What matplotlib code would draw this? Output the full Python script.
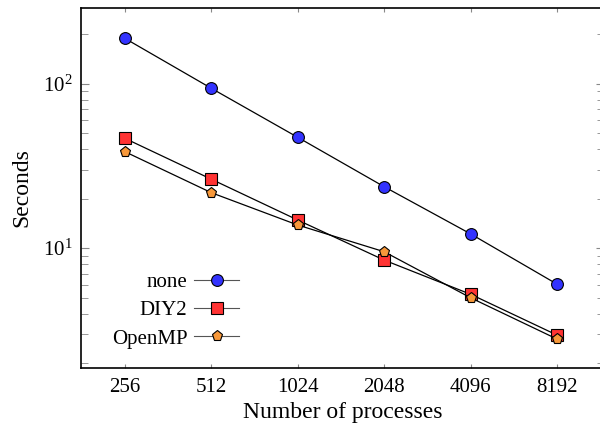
import numpy as np
import matplotlib
matplotlib.use('Agg')
import matplotlib.pyplot as plt
from matplotlib.ticker import LogLocator, NullFormatter, FixedLocator, FixedFormatter

# данные
procs = [256, 512, 1024, 2048, 4096, 8192]
proc_labels = ['256', '512', '1024', '2048', '4096', '8192']
t_none = [188, 93.5, 47.1, 23.6, 12.2, 6.04]
t_diy2 = [46.4, 26.2, 14.8, 8.45, 5.24, 2.96]
t_openmp = [38.5, 21.7, 13.8, 9.5, 4.99, 2.80]

plt.rcParams['font.family'] = ['Liberation Serif', 'DejaVu Serif']
plt.rcParams['mathtext.fontset'] = 'stix'

fig = plt.figure(figsize=(6, 4.32), dpi=100)
ax = fig.add_axes([0.135, 0.148, 0.871, 0.8335])  # правая рамка уходит за край, как в оригинале

ax.plot(procs, t_none, color='black', lw=0.9, marker='o', ms=8.5,
        mfc='#3333ff', mec='black', mew=0.8, label='none')
ax.plot(procs, t_diy2, color='black', lw=0.9, marker='s', ms=8,
        mfc='#ff3333', mec='black', mew=0.8, label='DIY2')
ax.plot(procs, t_openmp, color='black', lw=0.9, marker='p', ms=8,
        mfc='#f7983a', mec='black', mew=0.8, label='OpenMP')

ax.set_xscale('log', base=2)
ax.set_yscale('log')
ax.set_xlim(2 ** 7.49, 2 ** 13.54)
ax.set_ylim(1.865, 288)

ax.xaxis.set_major_locator(FixedLocator(procs))
ax.xaxis.set_major_formatter(FixedFormatter(proc_labels))
ax.xaxis.set_minor_locator(FixedLocator([]))
ax.yaxis.set_major_locator(LogLocator(base=10))
ax.yaxis.set_minor_locator(LogLocator(base=10, subs=np.arange(2, 10)))
ax.yaxis.set_minor_formatter(NullFormatter())

ax.tick_params(axis='x', which='both', direction='in', top=True, length=3,
               color='#888888', labelsize=15, pad=7)
ax.tick_params(axis='y', which='major', direction='in', right=True, length=5.5,
               color='#888888', labelsize=15, pad=6)
ax.tick_params(axis='y', which='minor', direction='in', right=True, length=5,
               color='#888888')

for s in ax.spines.values():
    s.set_linewidth(1.2)

ax.set_xlabel('Number of processes', fontsize=17, labelpad=4)
ax.set_ylabel('Seconds', fontsize=17, labelpad=8)

leg = ax.legend(loc='center', bbox_to_anchor=(0.181, 0.16), frameon=False,
                markerfirst=False, fontsize=15, handlelength=2.2,
                handletextpad=0.3, labelspacing=0.42)
for line in leg.get_lines():
    line.set_color('#555555')
    line.set_linewidth(0.8)

fig.savefig('out.png', dpi=100)
